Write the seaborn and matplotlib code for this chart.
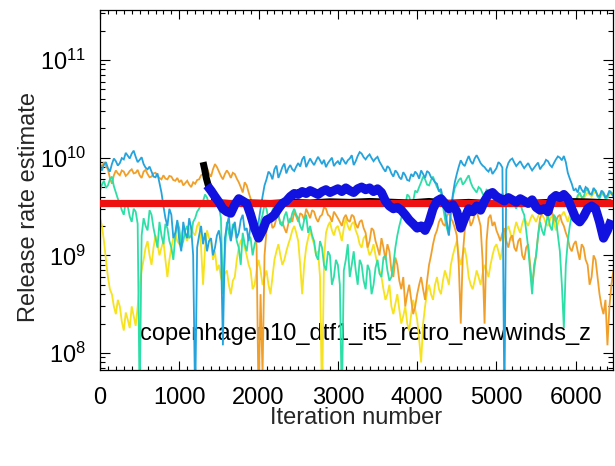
import numpy as np
import pandas as pd
import matplotlib
matplotlib.use("Agg")
import matplotlib.pyplot as plt
import matplotlib.ticker as mticker
import seaborn as sns

# ---------------------------------------------------------------- data
# release-rate estimates (units of 1e9) of the individual runs, every 25 iterations
iterations = np.arange(0, 6476, 25)

run_lightblue = [
    8.0, 7.4, 8.5, 9.0, 7.8, 7.2, 8.6, 9.8, 9.2, 8.3, 8.8, 9.9, 9.6, 11.2, 10.5, 9.8, 11.0, 11.8, 10.2, 9.0,
    9.5, 10.1, 8.6, 7.9, 7.6, 8.1, 7.2, 6.4, 6.3, 6.9, 5.5, 4.4, 3.2, 2.4, 2.0, 3.0, 2.6, 1.5, 1.7, 2.3,
    1.4, 1.1, 2.2, 1.7, 1.5, 2.4, 1.9, 1.0, 0.03, 1.2, 1.6, 2.0, 1.3, 1.7, 1.1, 1.4, 1.5, 1.0, 1.2, 1.6,
    1.8, 1.3, 0.12, 1.5, 2.0, 2.5, 1.4, 1.9, 2.2, 1.5, 1.7, 2.3, 2.6, 1.8, 1.9, 1.4, 2.1, 2.7, 1.6, 1.9,
    2.2, 3.0, 4.0, 5.2, 6.0, 7.2, 6.8, 6.0, 7.6, 8.3, 6.2, 7.0, 8.0, 8.7, 6.9, 7.8, 8.4, 7.6, 7.3, 8.1,
    8.8, 8.1, 9.6, 10.3, 8.0, 8.9, 9.8, 9.0, 8.4, 9.3, 10.2, 9.4, 8.6, 9.5, 8.0, 8.8, 9.4, 10.0, 8.2, 8.8,
    9.2, 8.5, 10.0, 9.3, 8.6, 9.4, 9.8, 10.6, 8.4, 9.2, 10.4, 11.4, 11.0, 10.1, 9.6, 10.3, 10.8, 9.9, 9.2, 9.8,
    10.2, 9.1, 8.4, 7.7, 7.2, 8.2, 7.8, 6.9, 6.4, 7.4, 7.0, 6.3, 6.0, 7.1, 6.6, 5.9, 5.8, 6.8, 6.4, 7.2,
    6.8, 6.1, 7.4, 6.8, 6.2, 7.3, 7.0, 6.3, 6.0, 5.6, 5.4, 4.5, 4.8, 3.8, 3.0, 2.2, 1.6, 2.8, 4.2, 5.6,
    6.8, 8.1, 9.4, 8.6, 8.2, 9.3, 10.4, 9.2, 8.6, 9.8, 10.6, 9.7, 8.8, 8.3, 8.0, 7.5, 7.2, 7.9, 6.8, 7.3,
    7.8, 9.0, 8.6, 7.9, 0.03, 7.6, 8.8, 9.5, 9.8, 8.9, 8.2, 8.7, 9.2, 8.4, 7.8, 8.3, 8.8, 8.0, 7.4, 7.9,
    8.4, 8.9, 7.6, 8.2, 8.6, 9.5, 9.2, 8.4, 8.0, 8.8, 9.6, 10.3, 10.0, 9.4, 10.4, 9.0, 7.0, 6.1, 5.4, 4.6,
    4.8, 4.4, 5.2, 4.7, 4.4, 5.0, 4.8, 4.3, 4.2, 4.9, 4.6, 4.1, 4.0, 4.6, 4.4, 3.9, 4.1, 4.6, 4.3, 4.0,
]

run_teal = [
    4.6, 5.3, 5.8, 4.9, 5.2, 6.0, 6.4, 5.1, 4.4, 3.8, 3.4, 2.9, 2.6, 3.6, 3.2, 2.5, 2.2, 3.0, 2.8, 2.1,
    0.03, 1.6, 2.4, 2.0, 1.8, 2.9, 2.6, 1.9, 1.5, 1.2, 2.2, 1.6, 1.3, 2.1, 1.9, 1.4, 1.2, 0.9, 1.6, 2.2,
    1.9, 1.2, 1.4, 1.8, 2.0, 1.5, 1.6, 2.2, 2.4, 2.8, 3.0, 3.4, 3.6, 4.2, 3.9, 3.3, 3.4, 4.0, 3.8, 3.5,
    3.2, 2.4, 0.4, 1.1, 2.2, 1.7, 1.4, 2.1, 1.9, 1.4, 1.2, 0.8, 1.7, 1.3, 1.1, 1.6, 1.5, 1.0, 1.3, 1.5,
    1.8, 2.2, 2.6, 3.3, 3.0, 2.3, 2.4, 2.9, 3.2, 2.7, 2.6, 2.1, 2.0, 2.5, 2.8, 2.2, 2.2, 2.7, 3.0, 2.6,
    2.4, 2.0, 1.8, 2.3, 2.6, 1.7, 2.0, 1.6, 1.4, 1.0, 0.9, 1.4, 1.2, 0.8, 0.7, 1.1, 1.0, 0.5, 0.6, 0.9,
    0.8, 0.5, 0.03, 0.7, 0.9, 1.3, 0.6, 0.8, 1.1, 0.7, 0.5, 0.9, 0.8, 0.55, 0.45, 0.8, 0.7, 0.4, 0.5, 0.75,
    0.9, 0.65, 0.6, 0.95, 1.0, 0.7, 0.55, 0.6, 0.8, 1.2, 1.6, 2.0, 2.4, 2.9, 3.2, 4.2, 4.0, 3.3, 3.6, 4.6,
    4.4, 5.0, 5.6, 6.4, 6.0, 5.3, 5.2, 5.9, 6.4, 5.6, 5.0, 4.6, 4.4, 3.2, 2.4, 1.9, 1.6, 2.8, 4.0, 4.9,
    5.4, 5.9, 6.2, 5.3, 5.6, 6.1, 6.6, 5.6, 5.0, 4.7, 4.4, 5.0, 4.8, 4.3, 4.0, 4.7, 4.6, 4.1, 3.8, 4.4,
    4.2, 3.8, 3.6, 4.3, 4.0, 3.5, 3.2, 3.7, 3.8, 3.3, 3.0, 3.6, 3.5, 2.9, 2.6, 1.8, 1.2, 0.7, 0.4, 0.8,
    1.0, 1.6, 2.2, 1.8, 1.6, 2.1, 2.6, 2.0, 1.8, 2.6, 2.4, 1.6, 1.1, 0.5, 0.18, 0.8, 1.4, 2.0, 2.6, 3.2,
    3.6, 4.1, 4.4, 3.9, 4.0, 4.6, 4.8, 4.3, 4.2, 4.7, 4.6, 4.0, 3.8, 4.4, 4.2, 3.8, 3.9, 4.5, 4.4, 4.1,
]

run_orange = [
    8.6, 8.0, 9.0, 8.2, 7.6, 6.2, 5.4, 6.6, 7.4, 6.9, 6.6, 7.4, 7.2, 6.5, 6.8, 7.3, 7.6, 6.9, 7.0, 7.5,
    6.6, 6.2, 7.2, 7.5, 6.8, 6.3, 6.4, 6.9, 7.0, 6.5, 6.2, 6.0, 6.6, 6.1, 6.0, 6.5, 6.4, 5.9, 5.8, 6.2,
    5.6, 5.9, 5.2, 5.5, 5.8, 5.3, 5.0, 5.6, 5.4, 5.9, 6.0, 6.6, 6.8, 7.4, 7.8, 6.9, 6.4, 7.6, 8.6, 8.0,
    7.2, 6.5, 6.0, 6.8, 7.4, 6.9, 6.2, 7.0, 6.8, 6.1, 5.6, 5.0, 4.4, 5.6, 5.2, 4.4, 3.8, 3.0, 2.4, 1.2,
    0.03, 0.4, 0.06, 1.0, 1.8, 2.2, 2.4, 1.9, 2.0, 2.4, 2.6, 2.1, 2.2, 1.9, 1.7, 2.1, 2.4, 2.2, 2.8, 2.5,
    2.2, 2.7, 2.6, 2.3, 3.0, 2.7, 2.4, 2.9, 2.8, 2.4, 2.2, 2.5, 2.6, 3.1, 3.0, 2.6, 2.5, 2.2, 2.8, 2.6,
    2.4, 2.2, 2.0, 2.4, 2.6, 2.3, 2.2, 2.6, 2.5, 2.1, 1.9, 2.2, 2.3, 1.9, 1.7, 1.2, 1.4, 1.9, 1.8, 1.4,
    1.2, 1.0, 1.5, 1.2, 0.9, 1.3, 1.1, 0.7, 0.6, 0.95, 0.8, 0.55, 0.45, 0.6, 0.3, 0.4, 0.5, 0.35, 0.25, 0.3,
    0.4, 0.5, 0.6, 0.45, 0.35, 0.55, 0.8, 1.0, 1.3, 1.6, 1.8, 2.2, 2.4, 2.1, 2.0, 2.5, 2.8, 2.4, 2.2, 1.9,
    1.6, 0.8, 0.2, 1.0, 1.8, 2.2, 2.6, 2.0, 2.2, 2.6, 2.8, 2.4, 2.0, 0.9, 0.2, 1.4, 2.4, 2.6, 2.0, 2.2,
    1.8, 1.6, 1.4, 1.7, 1.9, 1.4, 1.2, 1.5, 1.6, 1.2, 1.1, 1.4, 1.5, 1.0, 0.9, 1.2, 1.3, 0.8, 0.5, 0.7,
    1.0, 1.6, 2.4, 2.7, 3.0, 2.6, 2.4, 2.9, 2.8, 2.4, 2.2, 2.5, 2.6, 2.2, 2.0, 1.7, 1.5, 1.2, 1.1, 1.3,
    1.4, 1.1, 0.9, 1.3, 1.2, 0.9, 0.8, 0.5, 0.6, 1.0, 0.9, 0.6, 0.4, 0.3, 0.25, 0.35, 0.12, 0.3, 0.5, 0.7,
]

run_yellow = [
    2.4, 2.0, 1.4, 0.9, 0.6, 0.45, 0.4, 0.3, 0.25, 0.35, 0.3, 0.21, 0.17, 0.26, 0.22, 0.18, 0.3, 0.24, 0.19, 0.3,
    0.5, 0.7, 0.9, 1.2, 1.4, 1.0, 0.8, 1.2, 1.6, 1.3, 1.0, 1.2, 1.4, 0.9, 0.6, 0.9, 1.2, 1.5, 1.7, 1.4,
    1.3, 1.6, 1.9, 1.6, 1.4, 1.8, 2.0, 1.7, 1.6, 2.0, 2.2, 1.2, 0.5, 1.2, 1.8, 1.5, 1.4, 0.9, 1.1, 0.7,
    0.8, 0.6, 0.5, 0.65, 0.7, 0.5, 0.4, 0.55, 0.6, 0.9, 1.2, 1.4, 1.5, 1.2, 1.0, 0.8, 0.7, 0.45, 0.5, 0.7,
    0.9, 0.7, 0.5, 0.6, 0.7, 0.5, 0.4, 0.6, 0.9, 1.1, 1.3, 1.0, 0.8, 0.9, 1.1, 1.3, 1.5, 1.8, 2.0, 1.7,
    1.4, 0.8, 0.4, 0.8, 1.2, 1.5, 1.8, 1.5, 1.3, 1.0, 1.1, 0.6, 0.03, 0.9, 1.7, 2.0, 2.2, 1.8, 1.6, 1.9,
    2.0, 1.7, 1.4, 1.9, 2.4, 2.0, 1.8, 2.1, 2.2, 1.8, 1.6, 1.3, 1.2, 1.5, 1.6, 1.2, 1.0, 1.1, 1.3, 1.0,
    0.8, 0.7, 0.6, 0.45, 0.35, 0.4, 0.5, 0.3, 0.25, 0.32, 0.4, 0.28, 0.2, 0.24, 0.3, 0.2, 0.17, 0.25, 0.35, 0.28,
    0.22, 0.14, 0.08, 0.2, 0.3, 0.42, 0.5, 0.4, 0.35, 0.5, 0.6, 0.45, 0.4, 0.55, 0.7, 0.6, 0.5, 0.8, 1.0, 1.2,
    1.4, 1.0, 0.8, 1.0, 1.2, 0.9, 0.6, 0.5, 0.45, 0.55, 0.7, 0.6, 0.5, 0.65, 0.8, 0.7, 0.6, 0.8, 1.0, 1.2,
    1.3, 1.1, 0.9, 1.2, 1.6, 1.8, 2.0, 1.7, 1.4, 1.8, 2.2, 1.9, 1.7, 2.1, 2.4, 2.2, 2.0, 2.3, 2.6, 2.4,
    2.2, 2.5, 2.8, 2.6, 2.4, 2.1, 2.0, 2.3, 2.6, 2.2, 1.8, 2.1, 2.4, 2.6, 2.8, 2.5, 2.2, 2.6, 3.0, 3.3,
    3.6, 3.9, 4.2, 4.0, 3.8, 4.1, 4.4, 4.2, 4.0, 4.3, 4.6, 4.2, 3.9, 4.1, 4.3, 4.1, 4.0, 4.2, 4.4, 4.3,
]

# ensemble estimate (thick blue), from iteration 1350 on
ensemble_iter = np.arange(1350, 6451, 50)
ensemble_rate = [
    5.2, 4.6, 4.0, 3.5, 3.0, 2.8, 2.7, 3.3, 3.8, 3.6,
    3.4, 2.6, 1.9, 1.5, 1.8, 2.3, 2.4, 2.6, 3.0, 3.4,
    3.6, 4.0, 4.3, 4.2, 4.5, 4.3, 4.6, 4.4, 4.2, 4.5,
    4.7, 4.4, 4.6, 4.8, 4.5, 4.9, 4.6, 4.4, 4.8, 5.0,
    4.7, 4.9, 4.5, 4.8, 4.4, 3.6, 3.2, 3.0, 3.1, 2.9,
    2.6, 2.3, 2.1, 1.9, 2.0, 1.8, 2.2, 3.0, 3.6, 3.8,
    3.4, 3.0, 3.3, 2.8, 1.9, 2.4, 3.0, 2.8, 3.2, 2.9,
    3.6, 4.2, 4.4, 4.0, 3.8, 3.6, 3.9, 3.7, 3.5, 3.8,
    3.6, 3.4, 3.7, 3.1, 2.9, 3.0, 2.8, 3.8, 4.1, 3.9,
    4.2, 3.8, 3.0, 2.4, 2.2, 2.5, 3.0, 3.2, 3.0, 2.2,
    1.5, 1.8, 2.3,
]

# start-up of the ensemble (thick black) and its running mean (thin black)
startup_iter = [1300, 1320, 1340, 1360, 1380]
startup_rate = [9.0, 7.6, 6.2, 5.4, 4.8]
mean_iter = [1400, 1650, 1900, 2150, 2400, 2650, 2900, 3150, 3400, 3650, 3900,
             4150, 4400, 4650, 4900, 5150, 5400, 5650, 5900, 6150, 6450]
mean_rate = [3.7, 3.6, 3.65, 3.6, 3.7, 3.65, 3.75, 3.7, 3.78, 3.72, 3.65,
             3.78, 3.62, 3.7, 3.6, 3.65, 3.6, 3.7, 3.78, 3.74, 3.65]

true_rate = 3.4  # reference release rate, units of 1e9
unit = 1e9

run_names = ["yellow", "orange", "teal", "lightblue"]
run_values = [run_yellow, run_orange, run_teal, run_lightblue]
run_colors = {"yellow": "#f6e21e", "orange": "#f0a02a",
              "teal": "#2ddfa6", "lightblue": "#25a3dc"}

runs = pd.concat(
    [pd.DataFrame({"iteration": iterations,
                   "rate": np.asarray(vals) * unit,
                   "run": name})
     for name, vals in zip(run_names, run_values)],
    ignore_index=True,
)

# ---------------------------------------------------------------- style
sns.set_style("ticks")
plt.rcParams["font.family"] = ["Liberation Sans", "DejaVu Sans"]
plt.rcParams["mathtext.fontset"] = "custom"
plt.rcParams["mathtext.rm"] = "Liberation Sans"
plt.rcParams["mathtext.it"] = "Liberation Sans"

fig = plt.figure(figsize=(6.15, 4.66), dpi=100)
ax = fig.add_axes([100 / 615, 1 - 370 / 466, 513 / 615, 360 / 466])

line_style = dict(estimator=None, sort=False, marker="",
                  solid_joinstyle="miter", solid_capstyle="butt")
thick_style = dict(estimator=None, sort=False, marker="",
                   solid_joinstyle="round", solid_capstyle="butt")

sns.lineplot(data=runs, x="iteration", y="rate", hue="run",
             hue_order=run_names, palette=run_colors, lw=1.3, legend=False,
             ax=ax, zorder=2, **line_style)

sns.lineplot(x=mean_iter, y=np.asarray(mean_rate) * unit, color="black",
             lw=1.4, ax=ax, zorder=3, **line_style)
ax.axhline(true_rate * unit, color="#ee1111", lw=5.2, zorder=4)
sns.lineplot(x=startup_iter, y=np.asarray(startup_rate) * unit,
             color="black", lw=5.0, ax=ax, zorder=4.5, **thick_style)
sns.lineplot(x=ensemble_iter, y=np.asarray(ensemble_rate) * unit,
             color="#1212e0", lw=6.5, ax=ax, zorder=5, **thick_style)

ax.text(0.078, 0.083, "copenhagen10_dtf1_it5_retro_newwinds_z",
        transform=ax.transAxes, fontsize=17, va="baseline", ha="left",
        color="black", zorder=1.5)

# ---------------------------------------------------------------- axes
ax.set_yscale("log")
ax.set_xlim(0, 6470)
ax.set_ylim(6.7e7, 3.25e11)

ax.xaxis.set_major_locator(mticker.MultipleLocator(1000))
ax.xaxis.set_minor_locator(mticker.MultipleLocator(100))
ax.xaxis.set_major_formatter(mticker.FormatStrFormatter("%d"))
ax.yaxis.set_major_locator(mticker.LogLocator(base=10, numticks=20))
ax.yaxis.set_minor_locator(mticker.LogLocator(base=10, subs=np.arange(2, 10),
                                              numticks=20))
ax.yaxis.set_minor_formatter(mticker.NullFormatter())

ax.tick_params(axis="both", which="both", direction="in", top=True,
               right=True, colors="black", width=0.8)
ax.tick_params(axis="x", which="major", length=6.5, pad=12, labelsize=17)
ax.tick_params(axis="x", which="minor", length=3.0)
ax.tick_params(axis="y", which="major", length=7.5, pad=10, labelsize=17)
ax.tick_params(axis="y", which="minor", length=3.5)
for s in ax.spines.values():
    s.set_linewidth(0.9)
    s.set_color("black")
    s.set_visible(True)

ax.set_xlabel("Iteration number", fontsize=17)
ax.set_ylabel("Release rate estimate", fontsize=17)
ax.xaxis.set_label_coords(0.499, -0.103)
ax.yaxis.set_label_coords(-0.117, 0.453)

fig.savefig("out.png", dpi=100)
